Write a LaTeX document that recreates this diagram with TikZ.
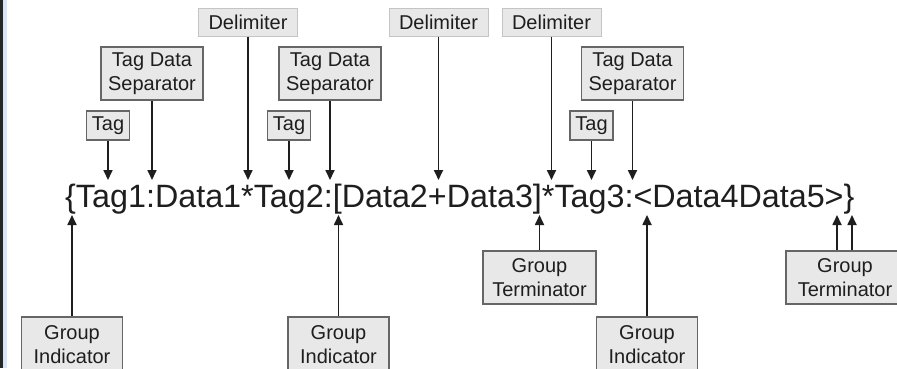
\documentclass[tikz,border=0pt]{standalone}
\usepackage{fontspec}
\setmainfont{Liberation Sans}
\usetikzlibrary{arrows.meta}
\definecolor{boxfill}{HTML}{E8E8E8}
\definecolor{boxline}{HTML}{666666}
\definecolor{delimline}{HTML}{C4C4C4}
\definecolor{ink}{HTML}{1E1E1E}
\definecolor{edgeblue}{HTML}{D6E6F6}
\tikzset{
  lbl/.style={fill=boxfill, draw=boxline, line width=1.5pt, inner sep=0pt,
    align=center, text=ink, font=\fontsize{20}{24}\selectfont},
  delimbox/.style={lbl, draw=delimline, line width=1pt,
    minimum width=99pt, minimum height=28pt},
  tagbox/.style={lbl, minimum width=43pt, minimum height=29pt},
  sepbox/.style={lbl, minimum width=102pt, minimum height=53pt},
  indbox/.style={lbl, minimum width=101pt, minimum height=56pt},
  termbox/.style={lbl, minimum width=113pt, minimum height=53pt},
  arr/.style={draw=ink, line width=1.7pt, -{Triangle[length=10pt,width=9pt]}}
}
\begin{document}
\begin{tikzpicture}[x=1pt, y=-1pt]
  \useasboundingbox (0,0) rectangle (897,368);
  \fill[white] (0,0) rectangle (897,368);
  \clip (0,0) rectangle (897,368);
  % frame strip on the left edge
  \fill[edgeblue] (2.5,0) rectangle (7,368);
  \fill[black!85] (0,0) rectangle (2.5,368);

  % the record string
  \node[anchor=base west, inner sep=0pt, text=ink, font=\fontsize{32.3}{36}\selectfont]
    (rec) at (65,207) {\{Tag1:Data1*Tag2:[Data2+Data3]*Tag3:<Data4Data5>\}};

  % tip levels above and below the string
  \coordinate (top) at (0,180);
  \coordinate (bot) at (0,215);

  % labels above
  \node[delimbox] (d1) at (248,22)  {Delimiter};
  \node[delimbox] (d2) at (438.5,22) {Delimiter};
  \node[delimbox] (d3) at (551.5,22) {Delimiter};
  \node[sepbox] (s1) at (152,73.5) {Tag Data\\Separator};
  \node[sepbox] (s2) at (330,73.5) {Tag Data\\Separator};
  \node[sepbox] (s3) at (632.5,73.5) {Tag Data\\Separator};
  \node[tagbox] (g1) at (108,125.5) {Tag};
  \node[tagbox] (g2) at (289,125.5) {Tag};
  \node[tagbox] (g3) at (591.5,125.5) {Tag};

  % labels below
  \node[indbox] (i1) at (72,345) {Group\\Indicator};
  \node[indbox] (i2) at (338.5,345) {Group\\Indicator};
  \node[indbox] (i3) at (647,345) {Group\\Indicator};
  \node[termbox] (t1) at (539.5,277.5) {Group\\Terminator};
  \node[termbox, minimum width=118pt] (t2) at (845,277.5) {Group\\Terminator};

  % downward pointers
  \foreach \n in {d1,d2,d3,s1,s2,s3,g1,g2,g3}
    \draw[arr] (\n.south) -- (\n.south |- top);

  % upward pointers
  \foreach \n in {i1,i2,i3,t1}
    \draw[arr] (\n.north) -- (\n.north |- bot);
  \draw[arr] ([xshift=-8pt]t2.north) -- ([xshift=-8pt]t2.north |- bot);
  \draw[arr] ([xshift=7pt]t2.north) -- ([xshift=7pt]t2.north |- bot);
\end{tikzpicture}
\end{document}
